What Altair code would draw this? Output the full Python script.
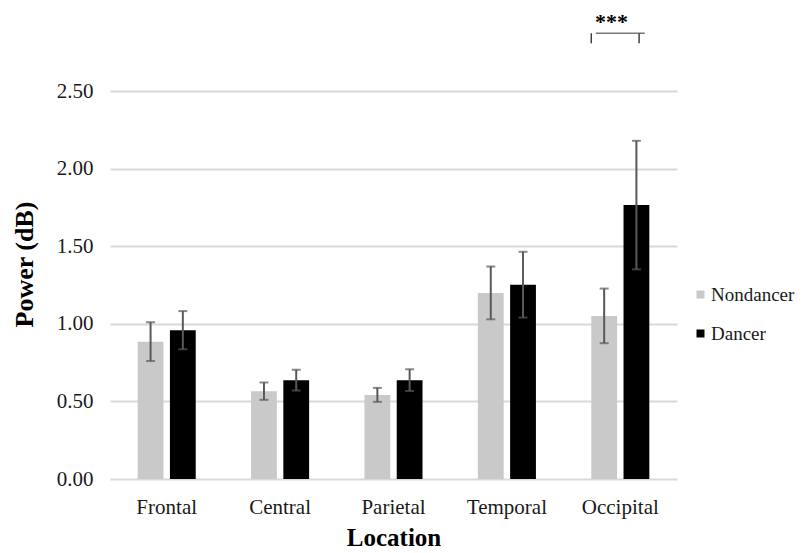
import altair as alt
import pandas as pd

locations = ["Frontal", "Central", "Parietal", "Temporal", "Occipital"]
groups = ["Nondancer", "Dancer"]
nondancer = [0.885, 0.566, 0.542, 1.199, 1.051]
dancer = [0.959, 0.637, 0.637, 1.252, 1.765]
nondancer_err = [0.125, 0.056, 0.045, 0.170, 0.176]
dancer_err = [0.123, 0.067, 0.070, 0.212, 0.414]
y_ticks = [0.0, 0.5, 1.0, 1.5, 2.0, 2.5]

# significance annotation (Occipital)
sig_location = "Occipital"
sig_label = "***"
sig_leg_low = 2.807
sig_leg_high = 2.872
sig_text_y = 2.90

rows = []
for i, loc in enumerate(locations):
    for g, vals, errs in (("Nondancer", nondancer, nondancer_err), ("Dancer", dancer, dancer_err)):
        rows.append(dict(Location=loc, Group=g, Power=vals[i],
                         lo=vals[i] - errs[i], hi=vals[i] + errs[i]))
df = pd.DataFrame(rows)
sig = pd.DataFrame([dict(Location=sig_location, y0=sig_leg_low, y1=sig_leg_high,
                         ty=sig_text_y, label=sig_label)])

FONT = "Liberation Serif"
TXT = "#1a1a1a"
ERR = "#595959"

x_scale = alt.Scale(paddingInner=0.488, paddingOuter=0.244)
x_axis = alt.Axis(title="Location", labelAngle=0, labelFont=FONT,
                  labelFontSize=21, labelColor=TXT, labelPadding=34,
                  labelBaseline="alphabetic",
                  ticks=False, domain=False, grid=False,
                  titleFont=FONT, titleFontSize=25, titleFontWeight="bold",
                  titleColor="#000000", titleBaseline="alphabetic",
                  titleY=66)


def xenc(bp=None):
    if bp is None:
        return alt.X("Location:N", sort=locations, scale=x_scale, axis=x_axis)
    return alt.X("Location:N", sort=locations, scale=x_scale, axis=x_axis, bandPosition=bp)


xo = alt.XOffset("Group:N", sort=groups,
                 scale=alt.Scale(paddingInner=0.2, paddingOuter=0))
y_scale = alt.Scale(domain=[0, 2.5], nice=False)
y_axis = alt.Axis(title="Power (dB)", values=y_ticks, format=".2f",
                  labelFont=FONT, labelFontSize=21, labelColor=TXT,
                  labelPadding=17, ticks=False, domain=False,
                  grid=True, gridColor="#d9d9d9", gridWidth=2,
                  titleFont=FONT, titleFontSize=26, titleFontWeight="bold",
                  titleColor="#000000", titleAngle=270,
                  titleBaseline="alphabetic", titleAlign="center",
                  titleX=-78, titleY=173)


def yenc(field):
    return alt.Y(field, scale=y_scale, axis=y_axis, title="Power (dB)")


base = alt.Chart(df)

bars = base.mark_bar().encode(
    x=xenc(),
    xOffset=xo,
    y=yenc("Power:Q"),
    color=alt.Color("Group:N", sort=groups,
                    scale=alt.Scale(domain=groups, range=["#c9c9c9", "#000000"]),
                    legend=alt.Legend(title=None, orient="none", legendX=581,
                                      legendY=194, direction="vertical",
                                      symbolType="square", symbolSize=64,
                                      symbolStrokeWidth=0, labelFont=FONT,
                                      labelFontSize=19, labelColor=TXT,
                                      labelOffset=1, rowPadding=19, padding=0)),
)

err_rule = base.mark_rule(color=ERR, strokeWidth=2).encode(
    x=xenc(), xOffset=xo, y=yenc("lo:Q"), y2="hi:Q")
cap_hi = base.mark_tick(color=ERR, size=9, thickness=2).encode(
    x=xenc(), xOffset=xo, y=yenc("hi:Q"))
cap_lo = base.mark_tick(color=ERR, size=9, thickness=2).encode(
    x=xenc(), xOffset=xo, y=yenc("lo:Q"))

sbase = alt.Chart(sig)
leg_l = sbase.mark_rule(color="#404040", strokeWidth=1.5).encode(
    x=xenc(0), y=yenc("y0:Q"), y2="y1:Q")
leg_r = sbase.mark_rule(color="#404040", strokeWidth=1.5).encode(
    x=xenc(0.824), y=yenc("y0:Q"), y2="y1:Q")
top = sbase.mark_tick(color="#404040", size=49, thickness=1.5).encode(
    x=xenc(0.412), y=yenc("y1:Q"))
stars = sbase.mark_text(font=FONT, fontSize=22, fontWeight="bold", color="#000000",
                        baseline="alphabetic", align="center").encode(
    x=xenc(0.35), y=yenc("ty:Q"), text="label:N")

chart = alt.layer(bars, err_rule, cap_hi, cap_lo, leg_l, leg_r, top, stars).properties(
    width=567, height=388,
    autosize=alt.AutoSizeParams(type="none"),
    padding={"left": 102, "top": 83, "right": 121, "bottom": 74},
    background="white",
).configure_view(stroke=None)

chart.save("out.html", embed_options={"renderer": "svg", "actions": False})
